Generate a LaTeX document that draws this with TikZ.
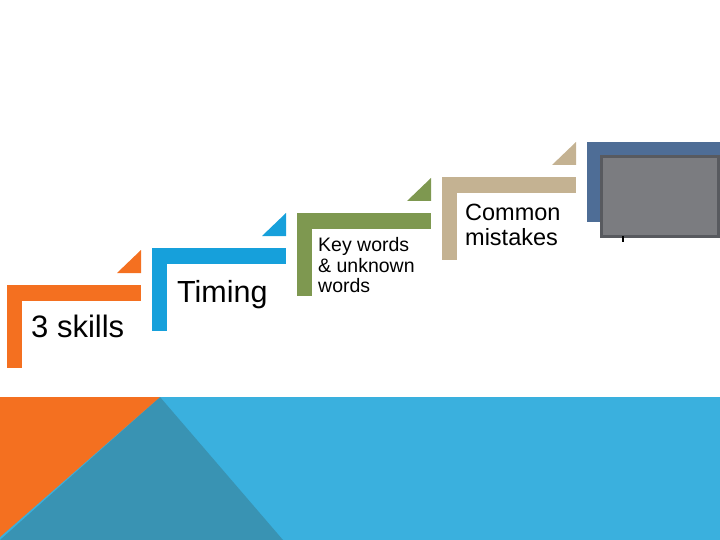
\documentclass[tikz,border=0pt]{standalone}
\usepackage{fontspec}
\setmainfont{Liberation Sans}
\definecolor{stepOrange}{RGB}{244,112,32}
\definecolor{stepBlue}{RGB}{22,160,219}
\definecolor{stepGreen}{RGB}{126,152,80}
\definecolor{stepTan}{RGB}{196,178,146}
\definecolor{stepNavy}{RGB}{78,109,150}
\definecolor{boxGray}{RGB}{123,124,128}
\definecolor{boxEdge}{RGB}{88,90,95}
\definecolor{bandBlue}{RGB}{58,176,222}
\definecolor{bandDark}{RGB}{57,147,179}
% one stair: top left corner (#1,#2), colour #3
\def\stair(#1,#2)#3{
	\fill[#3] (#1, #2) rectangle (#1+134, #2+16);
	\fill[#3] (#1, #2) rectangle (#1+15, #2+83);
	\fill[#3] (#1+110, #2-12) -- (#1+134, #2-35) -- (#1+134, #2-12) -- cycle;
}

\begin{document}
\begin{tikzpicture}[x=1pt, y=-1pt]
		%%%%% START %%%%%
		\useasboundingbox (0, 0) rectangle (720, 540);
		
		\fill[bandBlue] (0, 397) rectangle (720, 540);
		\fill[bandDark] (160, 397) -- (283, 540) -- (0, 540) -- cycle;
		\fill[stepOrange] (0, 397) -- (160, 397) -- (0, 537) -- cycle;
		
		\stair(7, 285){stepOrange}
		\stair(152, 248){stepBlue}
		\stair(297, 213){stepGreen}
		\stair(442, 177){stepTan}
		
		\fill[stepNavy] (587, 142) rectangle (720, 222);
		\draw[fill=boxGray, draw=boxEdge, line width=3] (601, 157) rectangle (718, 236);
		\draw[line width=1.5] (623, 236) -- (623, 242);
		
		\node[anchor=base west, inner sep=0, font=\fontsize{31}{33}\selectfont] (skills) at (31, 337) {3 skills};
		\node[anchor=base west, inner sep=0, font=\fontsize{30.5}{33}\selectfont] (timing) at (177, 302) {Timing};
		\node[anchor=north west, inner sep=0, align=left, font=\fontsize{19.5}{20.5}\selectfont] (keywords) at (318, 237.5) {Key words\\\& unknown\\words};
		\node[anchor=north west, inner sep=0, align=left, font=\fontsize{23.5}{25}\selectfont] (mistakes) at (465, 203.5) {Common\\mistakes};
		
		%%%%% END %%%%%
	\end{tikzpicture}
\end{document}
